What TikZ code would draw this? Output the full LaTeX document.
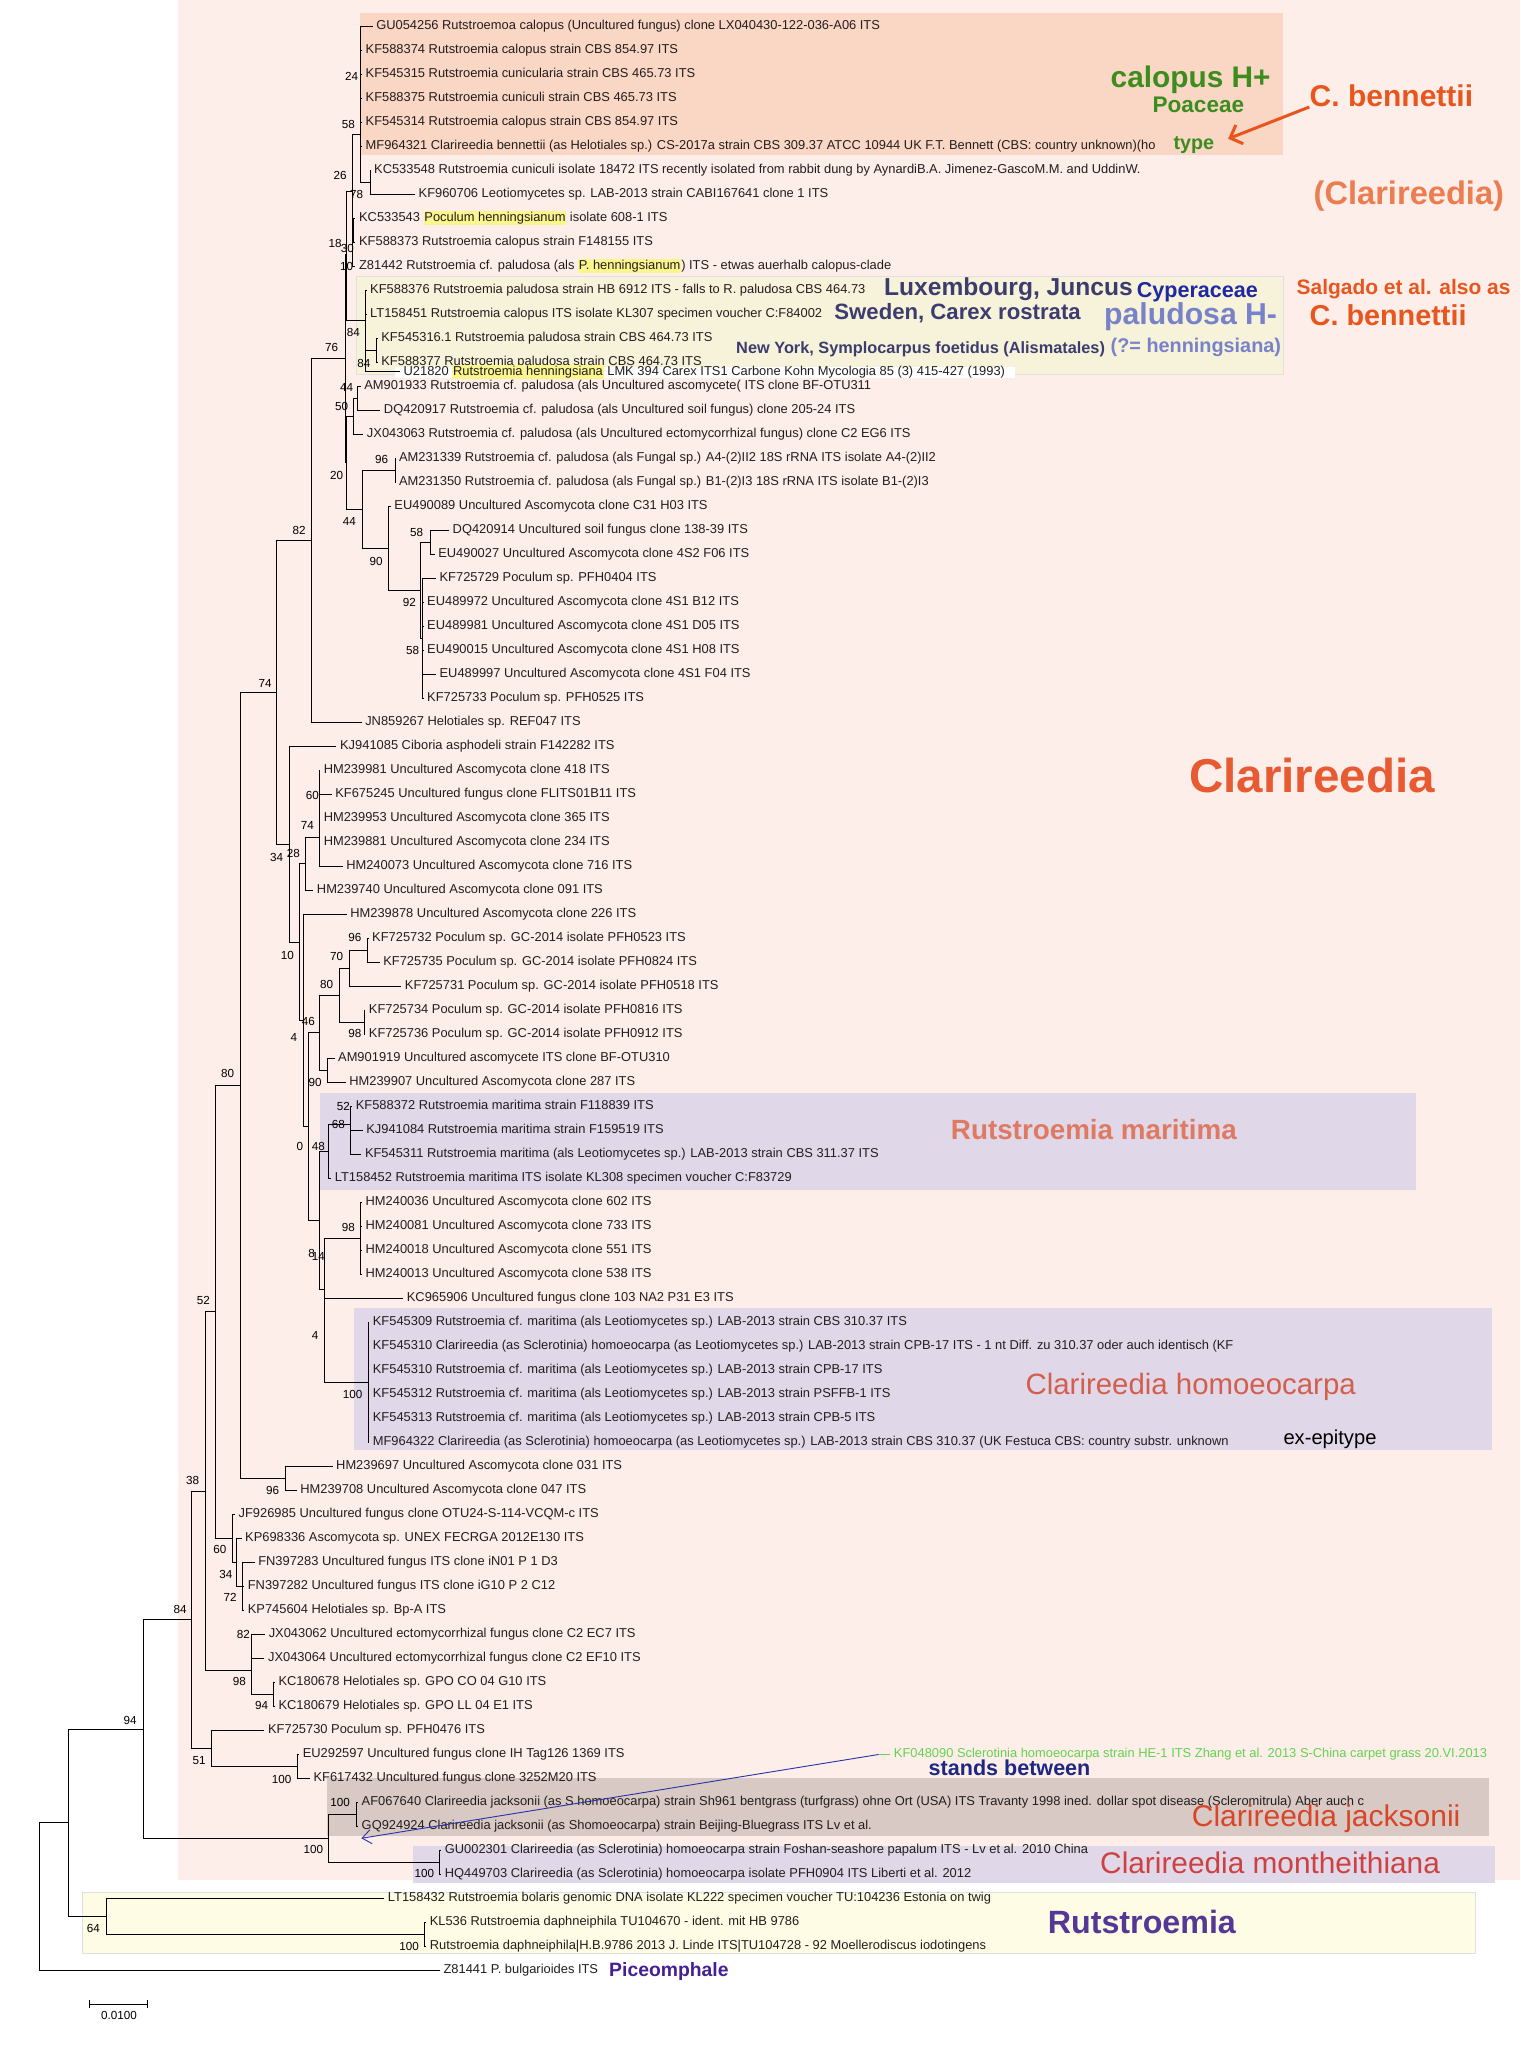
\documentclass[tikz,border=0pt]{standalone}
\usepackage{fontspec}
\setmainfont{Liberation Sans}
\usetikzlibrary{arrows.meta}
\definecolor{bgpink}{RGB}{253,238,233}
\definecolor{calbox}{RGB}{250,214,196}
\definecolor{palbox}{RGB}{247,242,218}
\definecolor{lavbox}{RGB}{224,215,232}
\definecolor{jacbox}{RGB}{217,201,197}
\definecolor{rutbox}{RGB}{254,252,228}
\definecolor{hlc}{RGB}{250,245,140}
\definecolor{leafc}{RGB}{35,30,30}
\definecolor{cgreen}{RGB}{60,140,30}
\definecolor{cored}{RGB}{232,86,30}
\definecolor{corl}{RGB}{236,125,80}
\definecolor{cnavy}{RGB}{60,60,110}
\definecolor{cblue}{RGB}{30,40,160}
\definecolor{cperi}{RGB}{120,130,200}
\definecolor{cclar}{RGB}{232,90,50}
\definecolor{cmar}{RGB}{222,122,98}
\definecolor{chom}{RGB}{210,95,75}
\definecolor{cstand}{RGB}{30,40,130}
\definecolor{cjac}{RGB}{215,70,40}
\definecolor{cmon}{RGB}{205,65,65}
\definecolor{crut}{RGB}{85,55,150}
\definecolor{cpic}{RGB}{70,30,150}
\definecolor{ckf}{RGB}{100,210,80}
\definecolor{carrow}{RGB}{40,50,170}
\newcommand\lf{\fontsize{6.4pt}{7pt}\selectfont}
\newcommand\bsf{\fontsize{5.8pt}{6.5pt}\selectfont}
\newcommand\hlt[1]{{\setlength{\fboxsep}{0.4pt}\colorbox{hlc}{#1}}}
\newcommand\fs[1]{\fontsize{#1}{#1}\selectfont}
\pgfmathdeclarefunction{rowy}{1}{\pgfmathparse{20+(#1-1)*18.3333}}
\begin{document}
\begin{tikzpicture}[x=0.65pt,y=-0.65pt,
  br/.style={line width=0.5pt, draw=black},
  leaf/.style={anchor=west, inner xsep=1.6pt, inner ysep=0pt, font=\lf, text height=4.6pt, text depth=1.3pt, text=leafc},
  bs/.style={font=\bsf, inner sep=0pt, text=black},
  big/.style={anchor=west, inner sep=0pt}]
\useasboundingbox (0,0) rectangle (1161,1568);
\fill[white] (0,0) rectangle (1161,1568);
\fill[bgpink] (136,0) rectangle (1161,1436);
% clade boxes
\fill[calbox] (275,9.7) rectangle (980,118.4);
\filldraw[fill=palbox,draw=black!12] (272.4,210.8) rectangle (980,285.7);
\fill[white] (302,280.5) rectangle (775,289);
\fill[lavbox] (244.4,834.9) rectangle (1081.5,908.9);
\fill[lavbox] (270.4,999.3) rectangle (1139.6,1107.5);
\fill[jacbox] (249.5,1358.2) rectangle (1137.3,1402.3);
\fill[lavbox] (315.3,1410) rectangle (1141.8,1438);
\filldraw[fill=rutbox,draw=black!12] (63.1,1445.6) rectangle (1126.6,1491.9);

% ---------------- leaves ----------------
\node[leaf] (L1) at (284.6,{rowy(1)}) {GU054256 Rutstroemoa calopus (Uncultured fungus) clone LX040430-122-036-A06 ITS};
\node[leaf] (L2) at (276.5,{rowy(2)}) {KF588374 Rutstroemia calopus strain CBS 854.97 ITS};
\node[leaf] (L3) at (276.5,{rowy(3)}) {KF545315 Rutstroemia cunicularia strain CBS 465.73 ITS};
\node[leaf] (L4) at (276.5,{rowy(4)}) {KF588375 Rutstroemia cuniculi strain CBS 465.73 ITS};
\node[leaf] (L5) at (276.5,{rowy(5)}) {KF545314 Rutstroemia calopus strain CBS 854.97 ITS};
\node[leaf] (L6) at (276.5,{rowy(6)}) {MF964321 Clarireedia bennettii (as Helotiales sp.) CS-2017a strain CBS 309.37 ATCC 10944 UK F.T. Bennett (CBS: country unknown)(ho};
\node[leaf] (L7) at (283,{rowy(7)}) {KC533548 Rutstroemia cuniculi isolate 18472 ITS recently isolated from rabbit dung by AynardiB.A. Jimenez-GascoM.M. and UddinW.};
\node[leaf] (L8) at (317,{rowy(8)}) {KF960706 Leotiomycetes sp. LAB-2013 strain CABI167641 clone 1 ITS};
\node[leaf] (L9) at (271.5,{rowy(9)}) {KC533543 \hlt{Poculum henningsianum} isolate 608-1 ITS};
\node[leaf] (L10) at (271.5,{rowy(10)}) {KF588373 Rutstroemia calopus strain F148155 ITS};
\node[leaf] (L11) at (271.5,{rowy(11)}) {Z81442 Rutstroemia cf. paludosa (als \hlt{P. henningsianum}) ITS - etwas auerhalb calopus-clade};
\node[leaf] (L12) at (280,{rowy(12)}) {KF588376 Rutstroemia paludosa strain HB 6912 ITS - falls to R. paludosa CBS 464.73};
\node[leaf] (L13) at (280,{rowy(13)}) {LT158451 Rutstroemia calopus ITS isolate KL307 specimen voucher C:F84002};
\node[leaf] (L14) at (288.5,{rowy(14)}) {KF545316.1 Rutstroemia paludosa strain CBS 464.73 ITS};
\node[leaf] (L15) at (288.5,{rowy(15)}) {KF588377 Rutstroemia paludosa strain CBS 464.73 ITS};
\node[leaf] (LU) at (305.5,284) {U21820 \hlt{Rutstroemia henningsiana} LMK 394 Carex ITS1 Carbone Kohn Mycologia 85 (3) 415-427 (1993)};
\node[leaf] (L16) at (275.5,{rowy(16)}) {AM901933 Rutstroemia cf. paludosa (als Uncultured ascomycete( ITS clone BF-OTU311};
\node[leaf] (L17) at (290.5,{rowy(17)}) {DQ420917 Rutstroemia cf. paludosa (als Uncultured soil fungus) clone 205-24 ITS};
\node[leaf] (L18) at (277.5,{rowy(18)}) {JX043063 Rutstroemia cf. paludosa (als Uncultured ectomycorrhizal fungus) clone C2 EG6 ITS};
\node[leaf] (L19) at (302,{rowy(19)}) {AM231339 Rutstroemia cf. paludosa (als Fungal sp.) A4-(2)II2 18S rRNA ITS isolate A4-(2)II2};
\node[leaf] (L20) at (302,{rowy(20)}) {AM231350 Rutstroemia cf. paludosa (als Fungal sp.) B1-(2)I3 18S rRNA ITS isolate B1-(2)I3};
\node[leaf] (L21) at (298.5,{rowy(21)}) {EU490089 Uncultured Ascomycota clone C31 H03 ITS};
\node[leaf] (L22) at (343,{rowy(22)}) {DQ420914 Uncultured soil fungus clone 138-39 ITS};
\node[leaf] (L23) at (332,{rowy(23)}) {EU490027 Uncultured Ascomycota clone 4S2 F06 ITS};
\node[leaf] (L24) at (333,{rowy(24)}) {KF725729 Poculum sp. PFH0404 ITS};
\node[leaf] (L25) at (323.5,{rowy(25)}) {EU489972 Uncultured Ascomycota clone 4S1 B12 ITS};
\node[leaf] (L26) at (323.5,{rowy(26)}) {EU489981 Uncultured Ascomycota clone 4S1 D05 ITS};
\node[leaf] (L27) at (323.5,{rowy(27)}) {EU490015 Uncultured Ascomycota clone 4S1 H08 ITS};
\node[leaf] (L28) at (333,{rowy(28)}) {EU489997 Uncultured Ascomycota clone 4S1 F04 ITS};
\node[leaf] (L29) at (323.5,{rowy(29)}) {KF725733 Poculum sp. PFH0525 ITS};
\node[leaf] (L30) at (276.2,{rowy(30)}) {JN859267 Helotiales sp. REF047 ITS};
\node[leaf] (L31) at (257,{rowy(31)}) {KJ941085 Ciboria asphodeli strain F142282 ITS};
\node[leaf] (L32) at (244.5,{rowy(32)}) {HM239981 Uncultured Ascomycota clone 418 ITS};
\node[leaf] (L33) at (253.3,{rowy(33)}) {KF675245 Uncultured fungus clone FLITS01B11 ITS};
\node[leaf] (L34) at (244.5,{rowy(34)}) {HM239953 Uncultured Ascomycota clone 365 ITS};
\node[leaf] (L35) at (244.5,{rowy(35)}) {HM239881 Uncultured Ascomycota clone 234 ITS};
\node[leaf] (L36) at (261.7,{rowy(36)}) {HM240073 Uncultured Ascomycota clone 716 ITS};
\node[leaf] (L37) at (239.3,{rowy(37)}) {HM239740 Uncultured Ascomycota clone 091 ITS};
\node[leaf] (L38) at (264.8,{rowy(38)}) {HM239878 Uncultured Ascomycota clone 226 ITS};
\node[leaf] (L39) at (281.5,{rowy(39)}) {KF725732 Poculum sp. GC-2014 isolate PFH0523 ITS};
\node[leaf] (L40) at (290,{rowy(40)}) {KF725735 Poculum sp. GC-2014 isolate PFH0824 ITS};
\node[leaf] (L41) at (306.5,{rowy(41)}) {KF725731 Poculum sp. GC-2014 isolate PFH0518 ITS};
\node[leaf] (L42) at (279,{rowy(42)}) {KF725734 Poculum sp. GC-2014 isolate PFH0816 ITS};
\node[leaf] (L43) at (279,{rowy(43)}) {KF725736 Poculum sp. GC-2014 isolate PFH0912 ITS};
\node[leaf] (L44) at (255.5,{rowy(44)}) {AM901919 Uncultured ascomycete ITS clone BF-OTU310};
\node[leaf] (L45) at (264,{rowy(45)}) {HM239907 Uncultured Ascomycota clone 287 ITS};
\node[leaf] (L46) at (269,{rowy(46)}) {KF588372 Rutstroemia maritima strain F118839 ITS};
\node[leaf] (L47) at (277,{rowy(47)}) {KJ941084 Rutstroemia maritima strain F159519 ITS};
\node[leaf] (L48) at (276,{rowy(48)}) {KF545311 Rutstroemia maritima (als Leotiomycetes sp.) LAB-2013 strain CBS 311.37 ITS};
\node[leaf] (L49) at (253,{rowy(49)}) {LT158452 Rutstroemia maritima ITS isolate KL308 specimen voucher C:F83729};
\node[leaf] (L50) at (276.5,{rowy(50)}) {HM240036 Uncultured Ascomycota clone 602 ITS};
\node[leaf] (L51) at (276.5,{rowy(51)}) {HM240081 Uncultured Ascomycota clone 733 ITS};
\node[leaf] (L52) at (276.5,{rowy(52)}) {HM240018 Uncultured Ascomycota clone 551 ITS};
\node[leaf] (L53) at (276.5,{rowy(53)}) {HM240013 Uncultured Ascomycota clone 538 ITS};
\node[leaf] (L54) at (308,{rowy(54)}) {KC965906 Uncultured fungus clone 103 NA2 P31 E3 ITS};
\node[leaf] (L55) at (282,{rowy(55)}) {KF545309 Rutstroemia cf. maritima (als Leotiomycetes sp.) LAB-2013 strain CBS 310.37 ITS};
\node[leaf] (L56) at (282,{rowy(56)}) {KF545310 Clarireedia (as Sclerotinia) homoeocarpa (as Leotiomycetes sp.) LAB-2013 strain CPB-17 ITS - 1 nt Diff. zu 310.37 oder auch identisch (KF};
\node[leaf] (L57) at (282,{rowy(57)}) {KF545310 Rutstroemia cf. maritima (als Leotiomycetes sp.) LAB-2013 strain CPB-17 ITS};
\node[leaf] (L58) at (282,{rowy(58)}) {KF545312 Rutstroemia cf. maritima (als Leotiomycetes sp.) LAB-2013 strain PSFFB-1 ITS};
\node[leaf] (L59) at (282,{rowy(59)}) {KF545313 Rutstroemia cf. maritima (als Leotiomycetes sp.) LAB-2013 strain CPB-5 ITS};
\node[leaf] (L60) at (282,{rowy(60)}) {MF964322 Clarireedia (as Sclerotinia) homoeocarpa (as Leotiomycetes sp.) LAB-2013 strain CBS 310.37 (UK Festuca CBS: country substr. unknown};
\node[leaf] (L61) at (254,{rowy(61)}) {HM239697 Uncultured Ascomycota clone 031 ITS};
\node[leaf] (L62) at (226.6,{rowy(62)}) {HM239708 Uncultured Ascomycota clone 047 ITS};
\node[leaf] (L63) at (179.5,{rowy(63)}) {JF926985 Uncultured fungus clone OTU24-S-114-VCQM-c ITS};
\node[leaf] (L64) at (184.5,{rowy(64)}) {KP698336 Ascomycota sp. UNEX FECRGA 2012E130 ITS};
\node[leaf] (L65) at (194.5,{rowy(65)}) {FN397283 Uncultured fungus ITS clone iN01 P 1 D3};
\node[leaf] (L66) at (186.5,{rowy(66)}) {FN397282 Uncultured fungus ITS clone iG10 P 2 C12};
\node[leaf] (L67) at (186.5,{rowy(67)}) {KP745604 Helotiales sp. Bp-A ITS};
\node[leaf] (L68) at (202.5,{rowy(68)}) {JX043062 Uncultured ectomycorrhizal fungus clone C2 EC7 ITS};
\node[leaf] (L69) at (202,{rowy(69)}) {JX043064 Uncultured ectomycorrhizal fungus clone C2 EF10 ITS};
\node[leaf] (L70) at (210,{rowy(70)}) {KC180678 Helotiales sp. GPO CO 04 G10 ITS};
\node[leaf] (L71) at (210,{rowy(71)}) {KC180679 Helotiales sp. GPO LL 04 E1 ITS};
\node[leaf] (L72) at (202,{rowy(72)}) {KF725730 Poculum sp. PFH0476 ITS};
\node[leaf] (L73) at (228.5,{rowy(73)}) {EU292597 Uncultured fungus clone IH Tag126 1369 ITS};
\node[leaf] (L74) at (236.7,{rowy(74)}) {KF617432 Uncultured fungus clone 3252M20 ITS};
\node[leaf] (L75) at (273.5,{rowy(75)}) {AF067640 Clarireedia jacksonii (as S homoeocarpa) strain Sh961 bentgrass (turfgrass) ohne Ort (USA) ITS Travanty 1998 ined. dollar spot disease (Scleromitrula) Aber auch c};
\node[leaf] (L76) at (273.5,{rowy(76)}) {GQ924924 Clarireedia jacksonii (as Shomoeocarpa) strain Beijing-Bluegrass ITS Lv et al.};
\node[leaf] (L77) at (337,{rowy(77)}) {GU002301 Clarireedia (as Sclerotinia) homoeocarpa strain Foshan-seashore papalum ITS - Lv et al. 2010 China};
\node[leaf] (L78) at (337,{rowy(78)}) {HQ449703 Clarireedia (as Sclerotinia) homoeocarpa isolate PFH0904 ITS Liberti et al. 2012};
\node[leaf] (L79) at (293.5,{rowy(79)}) {LT158432 Rutstroemia bolaris genomic DNA isolate KL222 specimen voucher TU:104236 Estonia on twig};
\node[leaf] (L80) at (325.5,{rowy(80)}) {KL536 Rutstroemia daphneiphila TU104670 - ident. mit HB 9786};
\node[leaf] (L81) at (325.5,{rowy(81)}) {Rutstroemia daphneiphila|H.B.9786 2013 J. Linde ITS|TU104728 - 92 Moellerodiscus iodotingens};
\node[leaf] (L82) at (336,{rowy(82)}) {Z81441 P. bulgarioides ITS};
\node[leaf,text=ckf] (LKF) at (680,{rowy(73)}) {KF048090 Sclerotinia homoeocarpa strain HE-1 ITS Zhang et al. 2013 S-China carpet grass 20.VI.2013};

% ---------------- internal nodes ----------------
\coordinate (n24) at (275.7,{rowy(3.5)});
\coordinate (n78) at (282.6,{rowy(7.5)});
\coordinate (n58) at (275.7,{rowy(5.5)});
\coordinate (n30) at (270,{rowy(9.5)});
\coordinate (n10) at (269.2,{rowy(10.25)});
\coordinate (n26) at (269.2,{rowy(7.875)});
\coordinate (n84b) at (287.7,{rowy(14.5)});
\coordinate (n84a) at (279.5,245);
\coordinate (n18) at (264.8,194.7);
\coordinate (n44a) at (273,{rowy(16.5)});
\coordinate (n50) at (270,317.9);
\coordinate (n96) at (301.7,{rowy(19.5)});
\coordinate (n58b) at (328.7,{rowy(22.5)});
\coordinate (n58c) at (322.9,{rowy(26.5)});
\coordinate (n92) at (321.2,450.8);
\coordinate (n90) at (296.6,418.7);
\coordinate (n44b) at (276.9,389);
\coordinate (n20) at (265,353.4);
\coordinate (n76) at (263.5,274);
\coordinate (n82) at (238,412.8);
\coordinate (n60) at (243.9,639.5);
\coordinate (n74b) at (233,659.7);
\coordinate (n96b) at (280.8,{rowy(39.5)});
\coordinate (n70) at (266.8,739.6);
\coordinate (n98b) at (278.3,{rowy(42.5)});
\coordinate (n80s) at (259.2,760.2);
\coordinate (n90b) at (250,{rowy(44.5)});
\coordinate (n46) at (243.9,788.9);
\coordinate (n68) at (267.8,{rowy(47.5)});
\coordinate (n52s) at (267.8,858.8);
\coordinate (n48) at (250.8,879.4);
\coordinate (n98c) at (275.5,{rowy(51.5)});
\coordinate (n100h) at (281.3,{rowy(57.5)});
\coordinate (n4s) at (247.5,1023.8);
\coordinate (n14) at (247.5,984.8);
\coordinate (nZ) at (243.9,932.1);
\coordinate (n0) at (235.5,860.5);
\coordinate (n4b) at (231.7,779.4);
\coordinate (n10b) at (229.1,719.6);
\coordinate (n34) at (221,644.8);
\coordinate (n74) at (211.3,528.8);
\coordinate (n96c) at (217.7,{rowy(61.5)});
\coordinate (n80) at (183.8,829);
\coordinate (n72) at (185.3,{rowy(66)});
\coordinate (n34b) at (180.8,1193.3);
\coordinate (n60b) at (177.7,1175);
\coordinate (n52) at (164.7,1002);
\coordinate (n82b) at (192.2,{rowy(68.5)});
\coordinate (n94) at (208.8,{rowy(70.5)});
\coordinate (n98d) at (192.2,1275.8);
\coordinate (n38) at (156.6,1138.9);
\coordinate (n100b) at (227.3,{rowy(73.5)});
\coordinate (n51) at (161.7,1335.4);
\coordinate (n84c) at (146.5,1237.2);
\coordinate (n100j) at (272.4,{rowy(75.5)});
\coordinate (n100m) at (336,{rowy(77.5)});
\coordinate (n100c) at (250.8,1404.2);
\coordinate (n94b) at (109.5,1320.7);
\coordinate (n100r) at (324.2,{rowy(80.5)});
\coordinate (n64) at (81,1463.8);
\coordinate (nA) at (52.2,1392.2);
\coordinate (nroot) at (30,1448.6);

% ---------------- branches ----------------
\foreach \p/\c in {
 n24/L1.west,n24/L2.west,n24/L3.west,n24/L4.west,n24/L5.west,n24/L6.west,
 n78/L7.west,n78/L8.west,n58/n24,n58/n78,
 n30/L9.west,n30/L10.west,n10/n30,n10/L11.west,n26/n58,n26/n10,
 n84b/L14.west,n84b/L15.west,n84a/L12.west,n84a/L13.west,n84a/n84b,n84a/LU.west,
 n18/n26,n18/n84a,
 n44a/L16.west,n44a/L17.west,n50/n44a,n50/L18.west,
 n96/L19.west,n96/L20.west,n58b/L22.west,n58b/L23.west,
 n58c/L24.west,n58c/L25.west,n58c/L26.west,n58c/L27.west,n58c/L28.west,n58c/L29.west,
 n92/n58b,n92/n58c,n90/L21.west,n90/n92,n44b/n96,n44b/n90,n20/n50,n20/n44b,
 n76/n18,n76/n20,n82/n76,n82/L30.west,
 n60/L32.west,n60/L33.west,n60/L34.west,n60/L35.west,n60/L36.west,
 n74b/n60,n74b/L37.west,
 n96b/L39.west,n96b/L40.west,n70/n96b,n70/L41.west,
 n98b/L42.west,n98b/L43.west,n80s/n70,n80s/n98b,
 n90b/L44.west,n90b/L45.west,n46/n80s,n46/n90b,
 n68/L47.west,n68/L48.west,n52s/L46.west,n52s/n68,n48/n52s,n48/L49.west,
 n98c/L50.west,n98c/L51.west,n98c/L52.west,n98c/L53.west,
 n100h/L55.west,n100h/L56.west,n100h/L57.west,n100h/L58.west,n100h/L59.west,n100h/L60.west,
 n4s/L54.west,n4s/n100h,n14/n98c,n14/n4s,nZ/n48,nZ/n14,n0/n46,n0/nZ,
 n4b/L38.west,n4b/n0,n10b/n74b,n10b/n4b,n34/L31.west,n34/n10b,n74/n82,n74/n34,
 n96c/L61.west,n96c/L62.west,n80/n74,n80/n96c,
 n72/L65.west,n72/L66.west,n72/L67.west,n34b/L64.west,n34b/n72,n60b/L63.west,n60b/n34b,
 n52/n80,n52/n60b,
 n82b/L68.west,n82b/L69.west,n94/L70.west,n94/L71.west,n98d/n82b,n98d/n94,n38/n52,n38/n98d,
 n100b/L73.west,n100b/L74.west,n51/L72.west,n51/n100b,n84c/n38,n84c/n51,
 n100j/L75.west,n100j/L76.west,n100m/L77.west,n100m/L78.west,n100c/n100j,n100c/n100m,
 n94b/n84c,n94b/n100c,
 n100r/L80.west,n100r/L81.west,n64/L79.west,n64/n100r,
 nA/n94b,nA/n64,nroot/nA,nroot/L82.west}
 \draw[br] (\p) |- (\c);

% ---------------- bootstrap values ----------------
\foreach \x/\y/\t in {
 268.6/58.5/24, 266/95/58, 259.7/134/26, 272.4/148.6/78, 255.9/185.6/18, 265.3/190/30, 264.8/203.6/10,
 269.9/254.3/84, 278/277.6/84, 253.3/265.5/76, 264.8/296.2/44, 261/310.3/50, 291.5/351.2/96,
 257.1/362.9/20, 266.8/398.4/44, 318.2/406.7/58, 228.4/405.3/82, 287.2/428.6/90, 312.6/460.3/92,
 315.2/496.8/58, 202.4/522.2/74, 238.5/607.9/60, 234.7/630.8/74, 211.3/655.1/34, 224/651.7/28,
 219.4/729.7/10, 271.1/716/96, 257.1/730.6/70, 249.5/751.6/80,
 235.5/780.2/46, 224.5/792/4, 271.1/789.4/98, 240.6/826.4/90, 173.9/820.2/80, 262.2/844.8/52,
 258.4/859.2/68, 229.1/875.6/0, 243.1/875.6/48, 266/937.2/98, 238/957.7/8, 243.1/959.7/14,
 240.6/1020.3/4, 155.3/993.6/52, 269.4/1064.9/100, 208.2/1138.2/96, 147.1/1130.5/38,
 168/1183.4/60, 172.6/1202.3/34, 175.7/1220.3/72, 137.5/1229/84, 185.8/1248.5/82,
 182.8/1284.4/98, 199.8/1302.4/94, 99.3/1313.7/94, 152/1344.4/51, 215.1/1358.8/100,
 259.7/1376.7/100, 239.3/1412.7/100, 71.3/1472.7/64, 312.4/1486.8/100, 324.2/1430.6/100}
 \node[bs] at (\x,\y) {\t};

% ---------------- scale bar ----------------
\coordinate (sb1) at (68.2,1530.6);
\coordinate (sb2) at (112.8,1530.6);
\draw[br] (sb1) -- (sb2);
\draw[br] ([yshift=-2pt]sb1) -- ([yshift=2pt]sb1);
\draw[br] ([yshift=-2pt]sb2) -- ([yshift=2pt]sb2);
\node[bs] (sbl) at (90.9,1539.4) {0.0100};

% ---------------- KF048090 and blue arrow ----------------
\coordinate (kfd) at (671,{rowy(73)});
\draw[ckf,line width=0.5pt] (kfd) -- (LKF.west);
\coordinate (bluetip) at (276,1404);
\draw[carrow,line width=0.45pt,-{Straight Barb[length=4.5pt,width=7pt]}] (kfd) -- (bluetip);

% ---------------- big labels ----------------
\node[big,text=cgreen,font=\fs{14.8pt}\bfseries] (calH) at (848,61) {calopus H+};
\node[big,text=cgreen,font=\fs{11.2pt}\bfseries] (poa) at (880,80) {Poaceae};
\node[big,text=cored,font=\fs{14.9pt}\bfseries] (cb1) at (1000,73) {C. bennettii};
\node[big,text=cgreen,font=\fs{9.8pt}\bfseries] (type) at (896,111) {type};
\coordinate (arrtip) at (938,106);
\draw[cored,line width=1.5pt,-{Straight Barb[length=5pt,width=10pt]}] (cb1.south west) -- (arrtip);
\node[big,text=corl,font=\fs{16.2pt}\bfseries] (clarp) at (1003,150) {(Clarireedia)};
\node[big,text=cnavy,font=\fs{12.2pt}\bfseries] (lux) at (675,221) {Luxembourg, Juncus};
\node[big,text=cnavy,font=\fs{11pt}\bfseries] (swe) at (637,239) {Sweden, Carex rostrata};
\node[big,text=cblue,font=\fs{10.7pt}\bfseries] (cyp) at (868,223) {Cyperaceae};
\node[big,text=cperi,font=\fs{15pt}\bfseries] (palH) at (843,242) {paludosa H-};
\node[big,text=cnavy,font=\fs{8.1pt}\bfseries] (ny) at (562,267) {New York, Symplocarpus foetidus (Alismatales)};
\node[big,text=cperi,font=\fs{9.85pt}\bfseries] (henn) at (848,265) {(?= henningsiana)};
\node[big,text=cored,font=\fs{10.4pt}\bfseries] (salg) at (990,221) {Salgado et al. also as};
\node[big,text=cored,font=\fs{14.3pt}\bfseries] (cb2) at (1000,241) {C. bennettii};
\node[big,text=cclar,font=\fs{23.6pt}\bfseries] (clar) at (908,592) {Clarireedia};
\node[big,text=cmar,font=\fs{13.8pt}\bfseries] (rmar) at (726,863) {Rutstroemia maritima};
\node[big,text=chom,font=\fs{14.6pt}] (chom) at (783,1059) {Clarireedia homoeocarpa};
\node[big,text=black,font=\fs{10pt}] (exep) at (980,1099) {ex-epitype};
\node[big,text=cstand,font=\fs{10.7pt}\bfseries] (stand) at (709,1350) {stands between};
\node[big,text=cjac,font=\fs{14.9pt}] (cjac) at (910,1389) {Clarireedia jacksonii};
\node[big,text=cmon,font=\fs{14.8pt}] (cmon) at (840,1423) {Clarireedia montheithiana};
\node[big,text=crut,font=\fs{16pt}\bfseries] (rut) at (800,1468) {Rutstroemia};
\node[big,text=cpic,font=\fs{9.6pt}\bfseries] (pic) at (465,1506) {Piceomphale};
\end{tikzpicture}
\end{document}
